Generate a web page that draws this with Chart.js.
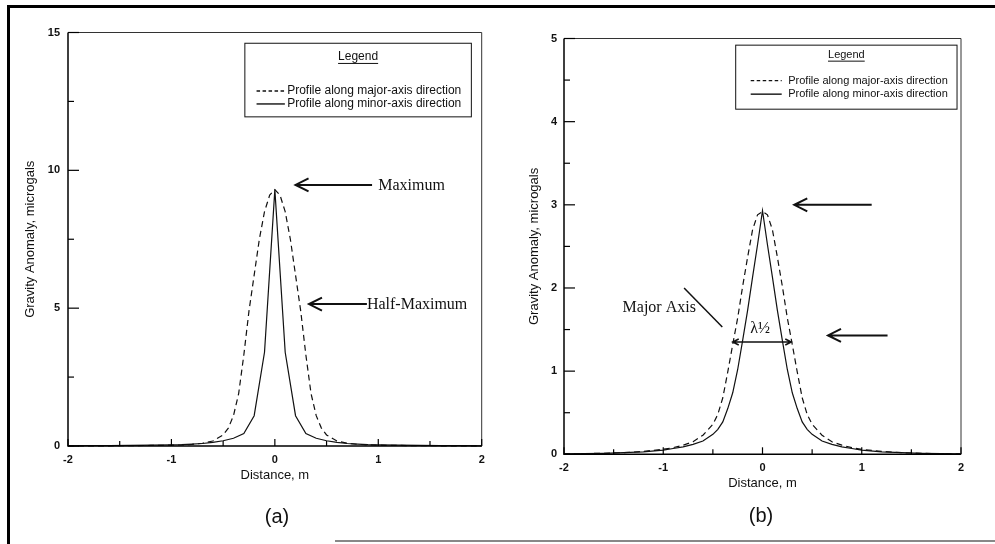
<!DOCTYPE html>
<html lang="en">
<head>
<meta charset="UTF-8">
<title>Gravity Anomaly Profiles</title>
<script src="https://cdn.jsdelivr.net/npm/chart.js"></script>
<style>
    body { margin: 0; background: #fff; }
    #page {
        position: relative;
        width: 995px;
        height: 544px;
        overflow: hidden;
        background: #fff;
        font-family: "Liberation Sans", Arial, sans-serif;
        color: #111;
    }
    /* scanned page frame */
    .frame-top { position: absolute; left: 7px; top: 5px; width: 988px; height: 3px; background: #000; }
    .frame-left { position: absolute; left: 7px; top: 5px; width: 3px; height: 539px; background: #000; }
    .frame-bottom { position: absolute; left: 335px; top: 540px; width: 660px; height: 2px; background: #888; }
    canvas { position: absolute; top: 0; }
    .caption {
        position: absolute;
        font-size: 20px;
        line-height: 20px;
        transform: translate(-50%, -50%);
    }
</style>
</head>
<body>
<div id="page">
    <div class="frame-top"></div>
    <div class="frame-left"></div>
    <div class="frame-bottom"></div>

    <canvas id="chartA" width="500" height="544" style="left:0px"></canvas>
    <canvas id="chartB" width="498" height="544" style="left:497px"></canvas>

    <div class="caption" style="left:277px; top:516px">(a)</div>
    <div class="caption" style="left:761px; top:515px">(b)</div>
</div>

<script>
    // distances (m) - fine spacing near the peak
    const distFine = [-2, -1.8, -1.6, -1.4, -1.2, -1, -0.9, -0.8, -0.7, -0.6, -0.5, -0.45, -0.4, -0.35, -0.3, -0.25, -0.2, -0.15, -0.1, -0.05,
        0, 0.05, 0.1, 0.15, 0.2, 0.25, 0.3, 0.35, 0.4, 0.45, 0.5, 0.6, 0.7, 0.8, 0.9, 1, 1.2, 1.4, 1.6, 1.8, 2];
    // distances (m) - 0.1 m spacing
    const distCoarse = [-2, -1.8, -1.6, -1.4, -1.2, -1, -0.9, -0.8, -0.7, -0.6, -0.5, -0.4, -0.3, -0.2, -0.1,
        0, 0.1, 0.2, 0.3, 0.4, 0.5, 0.6, 0.7, 0.8, 0.9, 1, 1.2, 1.4, 1.6, 1.8, 2];

    // (a) microgals
    const majorA = [0.005, 0.006, 0.008, 0.012, 0.02, 0.03, 0.04, 0.06, 0.1, 0.18, 0.4, 0.65, 1.1, 1.9, 3.3, 4.9, 6.2, 7.5, 8.5, 9.1,
        9.3, 9.1, 8.5, 7.5, 6.2, 4.9, 3.3, 1.9, 1.1, 0.65, 0.4, 0.18, 0.1, 0.06, 0.04, 0.03, 0.02, 0.012, 0.008, 0.006, 0.005];
    const minorA = [0.008, 0.01, 0.015, 0.02, 0.03, 0.04, 0.05, 0.07, 0.09, 0.13, 0.19, 0.28, 0.45, 1.1, 3.4,
        9.3, 3.4, 1.1, 0.45, 0.28, 0.19, 0.13, 0.09, 0.07, 0.05, 0.04, 0.03, 0.02, 0.015, 0.01, 0.008];

    // (b) microgals
    const majorB = [0.005, 0.008, 0.012, 0.02, 0.035, 0.06, 0.08, 0.11, 0.15, 0.23, 0.36, 0.48, 0.68, 0.99, 1.32, 1.64, 2.02, 2.37, 2.7, 2.88,
        2.92, 2.88, 2.7, 2.37, 2.02, 1.64, 1.32, 0.99, 0.68, 0.48, 0.36, 0.23, 0.15, 0.11, 0.08, 0.06, 0.035, 0.02, 0.012, 0.008, 0.005];
    const minorB = [0.005, 0.008, 0.012, 0.02, 0.03, 0.05, 0.07, 0.09, 0.12, 0.16, 0.24, 0.3, 0.39, 0.55, 0.74, 1.02, 1.37, 1.73, 2.13, 2.52,
        2.93, 2.52, 2.13, 1.73, 1.37, 1.02, 0.74, 0.55, 0.39, 0.3, 0.24, 0.16, 0.12, 0.09, 0.07, 0.05, 0.03, 0.02, 0.012, 0.008, 0.005];

    const labelMajor = 'Profile along major-axis direction';
    const labelMinor = 'Profile along minor-axis direction';

    Chart.defaults.font.family = '"Liberation Sans", Arial, sans-serif';
    Chart.defaults.color = '#111';

    const toPoints = (xs, ys) => xs.map((x, i) => ({ x: x, y: ys[i] }));

    function arrow(ctx, x0, y0, x1, y1, head, spread) {
        const ang = Math.atan2(y1 - y0, x1 - x0);
        ctx.beginPath();
        ctx.moveTo(x0, y0);
        ctx.lineTo(x1, y1);
        ctx.moveTo(x1 - head * Math.cos(ang) + spread * Math.sin(ang), y1 - head * Math.sin(ang) - spread * Math.cos(ang));
        ctx.lineTo(x1, y1);
        ctx.lineTo(x1 - head * Math.cos(ang) - spread * Math.sin(ang), y1 - head * Math.sin(ang) + spread * Math.cos(ang));
        ctx.stroke();
    }

    // plot frame, inward ticks, boxed legend and the hand drawn notes
    const paperPlugin = {
        id: 'paper',
        afterDatasetsDraw(chart, args, o) {
            const { ctx, chartArea: a, scales: { x, y } } = chart;
            const px = v => x.getPixelForValue(v);
            const py = v => y.getPixelForValue(v);
            ctx.save();

            ctx.lineCap = 'butt';
            ctx.strokeStyle = '#000';
            ctx.lineWidth = 1.5;
            ctx.beginPath();
            ctx.moveTo(a.left, a.top);
            ctx.lineTo(a.left, a.bottom);
            ctx.lineTo(a.right, a.bottom);
            ctx.stroke();
            ctx.strokeStyle = '#333';
            ctx.lineWidth = 1;
            ctx.beginPath();
            ctx.moveTo(a.left, a.top);
            ctx.lineTo(a.right, a.top);
            ctx.lineTo(a.right, a.bottom);
            ctx.stroke();

            ctx.strokeStyle = '#000';
            ctx.lineWidth = 1.2;
            x.ticks.forEach(t => {
                const X = px(t.value);
                const len = Number.isInteger(t.value) ? 7 : 5;
                ctx.beginPath(); ctx.moveTo(X, a.bottom); ctx.lineTo(X, a.bottom - len); ctx.stroke();
            });
            y.ticks.forEach(t => {
                const Y = py(t.value);
                const len = Math.abs(t.value % o.yMajor) < 1e-9 ? 11 : 6;
                ctx.beginPath(); ctx.moveTo(a.left, Y); ctx.lineTo(a.left + len, Y); ctx.stroke();
            });

            // legend
            const L = o.legend;
            const bx0 = px(L.x0), bx1 = px(L.x1), by0 = py(L.y0), by1 = py(L.y1);
            ctx.strokeStyle = '#111';
            ctx.lineWidth = 1;
            ctx.strokeRect(bx0, by0, bx1 - bx0, by1 - by0);
            ctx.fillStyle = '#111';
            ctx.font = L.fontSize + 'px "Liberation Sans", Arial, sans-serif';
            ctx.textAlign = 'center';
            ctx.textBaseline = 'middle';
            const cx = (bx0 + bx1) / 2;
            ctx.fillText('Legend', cx, by0 + L.titleY);
            const tw = ctx.measureText('Legend').width;
            ctx.beginPath();
            ctx.moveTo(cx - tw / 2, by0 + L.titleY + L.fontSize / 2 + 0.5);
            ctx.lineTo(cx + tw / 2, by0 + L.titleY + L.fontSize / 2 + 0.5);
            ctx.stroke();
            ctx.textAlign = 'left';
            chart.data.datasets.forEach((ds, i) => {
                const ry = by0 + L.rowY[i];
                ctx.setLineDash(ds.borderDash && ds.borderDash.length ? [3.5, 2.5] : []);
                ctx.lineWidth = 1.4;
                ctx.beginPath();
                ctx.moveTo(bx0 + L.sample[0], ry);
                ctx.lineTo(bx0 + L.sample[1], ry);
                ctx.stroke();
                ctx.setLineDash([]);
                ctx.fillText(ds.label, bx0 + L.textX, ry);
            });

            // notes
            ctx.strokeStyle = '#111';
            ctx.lineWidth = 2;
            (o.arrows || []).forEach(r => arrow(ctx, px(r.from), py(r.y), px(r.to), py(r.y), 13, 6.5));
            ctx.lineWidth = 1.5;
            (o.lines || []).forEach(l => {
                ctx.beginPath(); ctx.moveTo(px(l.x0), py(l.y0)); ctx.lineTo(px(l.x1), py(l.y1)); ctx.stroke();
            });
            (o.spans || []).forEach(s => {
                const xa = px(s.x0), xb = px(s.x1), Y = py(s.y);
                arrow(ctx, (xa + xb) / 2, Y, xa, Y, 6, 3);
                arrow(ctx, (xa + xb) / 2, Y, xb, Y, 6, 3);
            });
            ctx.font = '16px "Liberation Serif", "Times New Roman", serif';
            ctx.textBaseline = 'middle';
            (o.notes || []).forEach(n => {
                ctx.textAlign = n.align || 'left';
                ctx.fillText(n.text, px(n.x), py(n.y) + 1);
            });

            ctx.restore();
        }
    };

    function makeChart(id, cfg) {
        return new Chart(document.getElementById(id), {
            type: 'line',
            data: {
                datasets: [{
                    label: labelMajor,
                    data: toPoints(cfg.majorX, cfg.major),
                    borderColor: '#111',
                    borderWidth: 1.2,
                    borderDash: [6, 4],
                    pointRadius: 0,
                    tension: 0,
                    clip: false
                }, {
                    label: labelMinor,
                    data: toPoints(cfg.minorX, cfg.minor),
                    borderColor: '#111',
                    borderWidth: 1.2,
                    pointRadius: 0,
                    tension: 0,
                    clip: false
                }]
            },
            options: {
                responsive: false,
                animation: false,
                layout: { padding: cfg.padding },
                plugins: {
                    legend: { display: false },
                    tooltip: { enabled: false },
                    paper: cfg.paper
                },
                scales: {
                    x: {
                        type: 'linear',
                        min: -2,
                        max: 2,
                        grid: { display: false, drawTicks: false },
                        border: { display: false },
                        ticks: {
                            stepSize: 0.5,
                            autoSkip: false,
                            maxRotation: 0,
                            padding: 7,
                            font: { size: 11, weight: 'bold' },
                            callback: v => Number.isInteger(v) ? String(v) : ''
                        },
                        title: { display: true, text: 'Distance, m', font: { size: 13 }, padding: { top: 0, bottom: 0 } },
                        afterFit: s => { s.height = cfg.xHeight; }
                    },
                    y: {
                        min: 0,
                        max: cfg.yMax,
                        grid: { display: false, drawTicks: false },
                        border: { display: false },
                        ticks: {
                            stepSize: cfg.yStep,
                            autoSkip: false,
                            padding: cfg.yPad,
                            font: { size: 11, weight: 'bold' },
                            callback: v => Math.abs(v % cfg.paper.yMajor) < 1e-9 ? String(v) : ''
                        },
                        title: { display: true, text: 'Gravity Anomaly, microgals', font: { size: 13 }, padding: { top: cfg.yTitlePad, bottom: 0 } },
                        afterFit: s => { s.width = cfg.yWidth; }
                    }
                }
            },
            plugins: [paperPlugin]
        });
    }

    makeChart('chartA', {
        majorX: distFine, major: majorA,
        minorX: distCoarse, minor: minorA,
        yMax: 15, yStep: 2.5, yPad: 8, yWidth: 68, yTitlePad: 23, xHeight: 37,
        padding: { top: 32.5, right: 18.3, bottom: 61, left: 0 },
        paper: {
            yMajor: 5,
            legend: { x0: -0.29, x1: 1.9, y0: 14.61, y1: 11.94, fontSize: 12, titleY: 13.7, rowY: [47.7, 60.7], sample: [11.7, 40], textX: 42.3 },
            arrows: [{ from: 0.94, to: 0.2, y: 9.47 }, { from: 0.89, to: 0.33, y: 5.15 }],
            notes: [{ text: 'Maximum', x: 1.0, y: 9.47 }, { text: 'Half-Maximum', x: 0.89, y: 5.15 }]
        }
    });

    makeChart('chartB', {
        majorX: distFine, major: majorB,
        minorX: distFine, minor: minorB,
        yMax: 5, yStep: 0.5, yPad: 7, yWidth: 67, yTitlePad: 30, xHeight: 36.5,
        padding: { top: 38.5, right: 34, bottom: 53.2, left: 0 },
        paper: {
            yMajor: 1,
            legend: { x0: -0.27, x1: 1.96, y0: 4.92, y1: 4.15, fontSize: 11, titleY: 10, rowY: [35.5, 49], sample: [15, 46], textX: 52.5 },
            arrows: [{ from: 1.1, to: 0.32, y: 3.0 }, { from: 1.26, to: 0.66, y: 1.43 }],
            lines: [{ x0: -0.79, y0: 2.0, x1: -0.405, y1: 1.53 }],
            spans: [{ x0: -0.3, x1: 0.29, y: 1.35 }],
            notes: [{ text: 'Major Axis', x: -1.41, y: 1.77 }, { text: 'λ½', x: -0.025, y: 1.52, align: 'center' }]
        }
    });
</script>
</body>
</html>
